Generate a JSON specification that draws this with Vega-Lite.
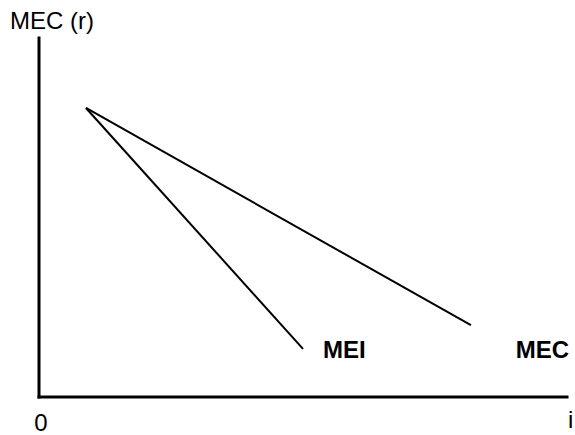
{
  "$schema": "https://vega.github.io/schema/vega-lite/v6.json",
  "width": 575,
  "height": 435,
  "autosize": {"type": "none"},
  "padding": 0,
  "background": "white",
  "config": {"view": {"stroke": null}},
  "datasets": {
    "axes": [
      {"x": 0, "y": 0, "x2": 10, "y2": 0},
      {"x": 0, "y": 0, "x2": 0, "y2": 10}
    ],
    "curves": [
      {"curve": "MEI", "i": 0.89, "r": 8.05},
      {"curve": "MEI", "i": 5.0, "r": 1.34},
      {"curve": "MEC", "i": 0.89, "r": 8.05},
      {"curve": "MEC", "i": 8.18, "r": 2.0}
    ],
    "curveLabels": [
      {"text": "MEI", "i": 5.38, "r": 1.09},
      {"text": "MEC", "i": 9.03, "r": 1.09}
    ],
    "axisLabels": [
      {"text": "MEC (r)", "i": -0.55, "r": 10.25},
      {"text": "0", "i": -0.09, "r": -0.95},
      {"text": "i", "i": 10.02, "r": -0.86}
    ]
  },
  "layer": [
    {
      "data": {"name": "axes"},
      "mark": {"type": "rule", "color": "black", "strokeWidth": 3, "strokeCap": "square"},
      "encoding": {
        "x": {"field": "x", "type": "quantitative", "scale": {"domain": [-0.7386, 10.1515], "nice": false, "zero": false}, "axis": null},
        "y": {"field": "y", "type": "quantitative", "scale": {"domain": [-1.0585, 11.058], "nice": false, "zero": false}, "axis": null},
        "x2": {"field": "x2"},
        "y2": {"field": "y2"}
      }
    },
    {
      "data": {"name": "curves"},
      "mark": {"type": "line", "color": "black", "strokeWidth": 2},
      "encoding": {
        "x": {"field": "i", "type": "quantitative", "axis": null},
        "y": {"field": "r", "type": "quantitative", "axis": null},
        "detail": {"field": "curve"}
      }
    },
    {
      "data": {"name": "curveLabels"},
      "mark": {"type": "text", "align": "left", "baseline": "alphabetic", "font": "Liberation Sans", "fontSize": 24, "fontWeight": "bold", "color": "black", "clip": false},
      "encoding": {
        "x": {"field": "i", "type": "quantitative", "axis": null},
        "y": {"field": "r", "type": "quantitative", "axis": null},
        "text": {"field": "text"}
      }
    },
    {
      "data": {"name": "axisLabels"},
      "mark": {"type": "text", "align": "left", "baseline": "alphabetic", "font": "Liberation Sans", "fontSize": 24, "color": "black", "clip": false},
      "encoding": {
        "x": {"field": "i", "type": "quantitative", "axis": null},
        "y": {"field": "r", "type": "quantitative", "axis": null},
        "text": {"field": "text"}
      }
    }
  ]
}
